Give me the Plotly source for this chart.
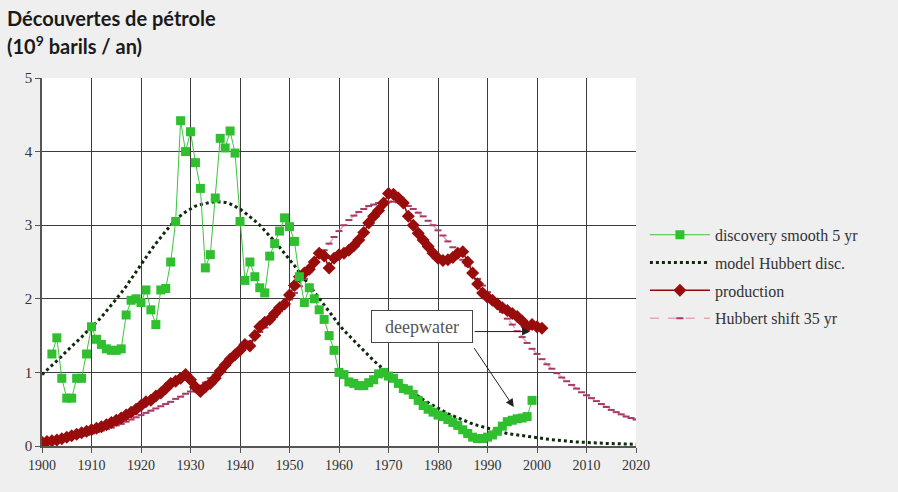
import plotly.graph_objects as go

# ---------------- data ----------------
disc_years = list(range(1902, 2000))
disc_values = [1.25, 1.47, 0.92, 0.65, 0.65, 0.92, 0.92, 1.25, 1.62, 1.45,
               1.38, 1.32, 1.30, 1.30, 1.32, 1.78, 1.98, 2.00, 1.95, 2.12,
               1.85, 1.65, 2.12, 2.14, 2.50, 3.05, 4.42, 4.00, 4.27, 3.85,
               3.50, 2.42, 2.60, 3.37, 4.18, 4.05, 4.28, 3.98, 3.05, 2.25,
               2.50, 2.30, 2.15, 2.08, 2.58, 2.75, 2.92, 3.10, 2.98, 2.78,
               2.30, 1.95, 2.15, 2.00, 1.85, 1.72, 1.50, 1.30, 1.00, 0.97,
               0.87, 0.85, 0.82, 0.82, 0.86, 0.90, 0.98, 1.00, 0.95, 0.92,
               0.85, 0.78, 0.76, 0.70, 0.62, 0.55, 0.50, 0.46, 0.42, 0.40,
               0.36, 0.32, 0.28, 0.22, 0.17, 0.12, 0.10, 0.10, 0.12, 0.15,
               0.20, 0.27, 0.33, 0.35, 0.37, 0.38, 0.40, 0.62]

model_years = list(range(1900, 2021))
model_values = [0.97, 1.03, 1.09, 1.16, 1.22, 1.29, 1.35, 1.42, 1.48, 1.55,
                1.61, 1.68, 1.75, 1.83, 1.91, 1.99, 2.08, 2.17, 2.27, 2.37,
                2.47, 2.57, 2.66, 2.75, 2.84, 2.92, 3.00, 3.07, 3.13, 3.18,
                3.22, 3.26, 3.28, 3.30, 3.31, 3.32, 3.32, 3.31, 3.29, 3.26,
                3.22, 3.17, 3.12, 3.06, 3.00, 2.93, 2.86, 2.78, 2.70, 2.62,
                2.53, 2.45, 2.36, 2.27, 2.18, 2.09, 2.00, 1.91, 1.82, 1.73,
                1.65, 1.57, 1.50, 1.43, 1.36, 1.29, 1.22, 1.16, 1.10, 1.04,
                0.98, 0.92, 0.87, 0.82, 0.77, 0.72, 0.67, 0.63, 0.59, 0.55,
                0.51, 0.47, 0.44, 0.41, 0.38, 0.35, 0.32, 0.30, 0.28, 0.26,
                0.24, 0.22, 0.20, 0.19, 0.17, 0.16, 0.15, 0.14, 0.13, 0.12,
                0.11, 0.10, 0.09, 0.085, 0.08, 0.07, 0.065, 0.06, 0.055, 0.05,
                0.047, 0.044, 0.041, 0.038, 0.035, 0.033, 0.031, 0.029, 0.027, 0.025,
                0.023]

prod_years = list(range(1900, 2002))
prod_values = [0.05, 0.06, 0.07, 0.08, 0.10, 0.12, 0.14, 0.16, 0.18, 0.20,
               0.22, 0.24, 0.26, 0.29, 0.32, 0.35, 0.38, 0.42, 0.46, 0.50,
               0.55, 0.60, 0.62, 0.68, 0.72, 0.78, 0.85, 0.88, 0.92, 0.97,
               0.90, 0.80, 0.74, 0.80, 0.85, 0.92, 1.02, 1.10, 1.18, 1.24,
               1.30, 1.38, 1.36, 1.50, 1.62, 1.68, 1.72, 1.80, 1.88, 1.93,
               2.05, 2.18, 2.30, 2.35, 2.40, 2.50, 2.62, 2.58, 2.42, 2.55,
               2.60, 2.62, 2.66, 2.72, 2.80, 2.90, 3.03, 3.12, 3.20, 3.30,
               3.43, 3.42, 3.37, 3.30, 3.12, 3.00, 2.89, 2.80, 2.71, 2.62,
               2.55, 2.52, 2.53, 2.56, 2.62, 2.64, 2.50, 2.35, 2.20, 2.08,
               2.02, 1.98, 1.93, 1.88, 1.84, 1.80, 1.76, 1.70, 1.62, 1.65,
               1.62, 1.60]

shift_years = list(range(1900, 2021))
shift_values = [0.05, 0.06, 0.07, 0.08, 0.09, 0.10, 0.11, 0.12, 0.14, 0.15,
                0.17, 0.19, 0.21, 0.23, 0.25, 0.28, 0.30, 0.33, 0.36, 0.39,
                0.42, 0.45, 0.48, 0.51, 0.54, 0.57, 0.60, 0.64, 0.67, 0.71,
                0.74, 0.78, 0.82, 0.86, 0.92, 0.97, 1.03, 1.09, 1.16, 1.22,
                1.29, 1.35, 1.42, 1.48, 1.55, 1.61, 1.68, 1.75, 1.83, 1.91,
                1.99, 2.08, 2.17, 2.27, 2.37, 2.47, 2.57, 2.66, 2.75, 2.84,
                2.92, 3.00, 3.07, 3.13, 3.18, 3.22, 3.26, 3.28, 3.30, 3.31,
                3.32, 3.32, 3.31, 3.29, 3.26, 3.22, 3.17, 3.12, 3.06, 3.00,
                2.93, 2.86, 2.78, 2.70, 2.62, 2.53, 2.45, 2.36, 2.27, 2.18,
                2.09, 2.00, 1.91, 1.82, 1.73, 1.65, 1.56, 1.48, 1.40, 1.32,
                1.25, 1.18, 1.11, 1.05, 0.99, 0.93, 0.88, 0.83, 0.78, 0.73,
                0.69, 0.65, 0.61, 0.57, 0.53, 0.49, 0.46, 0.43, 0.40, 0.38,
                0.36]

x_ticks = list(range(1900, 2021, 10))
y_ticks = [0, 1, 2, 3, 4, 5]

# deepwater annotation: label position and arrow targets
label_pos = (1976.7, 1.62)
arrow1 = ((1987.1, 1.555), (1998.6, 1.555))
arrow2 = ((1987.1, 1.35), (1995.3, 0.53))

serif = "Liberation Serif, Times New Roman, serif"
bg = "#efefef"

fig = go.Figure()

fig.add_trace(go.Scatter(
    x=model_years, y=model_values, name="model Hubbert disc.",
    legendgroup="b", legendrank=2,
    mode="lines", line=dict(color="#0d2a0d", width=3, dash="dot")))

fig.add_trace(go.Scatter(
    x=shift_years, y=shift_values, name="Hubbert shift 35 yr",
    legendgroup="d", legendrank=4,
    mode="lines+markers",
    line=dict(color="#e6a6c0", width=1.5, dash="dash"),
    marker=dict(symbol="line-ew", size=5, line=dict(color="#a83a66", width=2))))

fig.add_trace(go.Scatter(
    x=prod_years, y=prod_values, name="production",
    legendgroup="c", legendrank=3,
    mode="lines+markers",
    line=dict(color="#8b0a0a", width=1.5),
    marker=dict(symbol="diamond", size=10, color="#990c0c")))

fig.add_trace(go.Scatter(
    x=disc_years, y=disc_values, name="discovery smooth 5 yr",
    legendgroup="a", legendrank=1,
    mode="lines+markers",
    line=dict(color="#3cc43c", width=1),
    marker=dict(symbol="square", size=9, color="#2fbf2f")))

# deepwater label and arrows
fig.add_annotation(x=label_pos[0], y=label_pos[1], text="deepwater",
                   showarrow=False, font=dict(family=serif, size=18, color="#555555"),
                   bgcolor="white", bordercolor="#444444", borderwidth=1,
                   width=96, height=27, borderpad=2,
                   xanchor="center", yanchor="middle")
for (sx, sy), (ex, ey) in (arrow1, arrow2):
    fig.add_annotation(x=ex, y=ey, ax=sx, ay=sy, axref="x", ayref="y",
                       xref="x", yref="y", text="", showarrow=True,
                       arrowhead=2, arrowsize=1.6, arrowwidth=1,
                       arrowcolor="#222222")

fig.update_layout(
    width=898, height=492,
    paper_bgcolor=bg, plot_bgcolor="white",
    margin=dict(l=42, r=262, t=78, b=46),
    showlegend=True,
    legend=dict(x=1.015, y=0.62, xanchor="left", yanchor="top",
                traceorder="grouped", itemwidth=60,
                font=dict(family=serif, size=16, color="#333333"),
                bgcolor="rgba(0,0,0,0)", tracegroupgap=4),
    font=dict(family=serif, color="#333333"),
)

fig.update_xaxes(range=[1900, 2020], tickvals=x_ticks,
                 ticktext=[str(v) for v in x_ticks],
                 showgrid=True, gridcolor="#3c3c3c", gridwidth=1.3,
                 zeroline=False, showline=True, linecolor="#555555", linewidth=1.5,
                 ticks="outside", ticklen=5, tickcolor="#555555",
                 tickfont=dict(family=serif, size=14, color="#333333"))
fig.update_yaxes(range=[0, 5], tickvals=y_ticks,
                 showgrid=True, gridcolor="#3c3c3c", gridwidth=1.3,
                 zeroline=False, showline=True, linecolor="#555555", linewidth=1.5,
                 ticks="outside", ticklen=5, tickcolor="#555555",
                 tickfont=dict(family=serif, size=15, color="#333333"))

title_font = "Lato, sans-serif"
fig.add_annotation(xref="paper", yref="paper", x=-0.063, y=1.163,
                   xanchor="left", yanchor="middle", showarrow=False,
                   text="<b>Découvertes de pétrole</b>",
                   font=dict(family=title_font, size=20, color="#1a1a1a"))
fig.add_annotation(xref="paper", yref="paper", x=-0.063, y=1.09,
                   xanchor="left", yanchor="middle", showarrow=False,
                   text="<b>(10<sup>9</sup> barils / an)</b>",
                   font=dict(family=title_font, size=20, color="#1a1a1a"))

fig.write_html(
    "out.html",
    config={"displayModeBar": False},
    post_script="document.body.style.margin='0';"
                "document.body.style.background='%s';"
                "document.documentElement.style.background='%s';" % (bg, bg))
